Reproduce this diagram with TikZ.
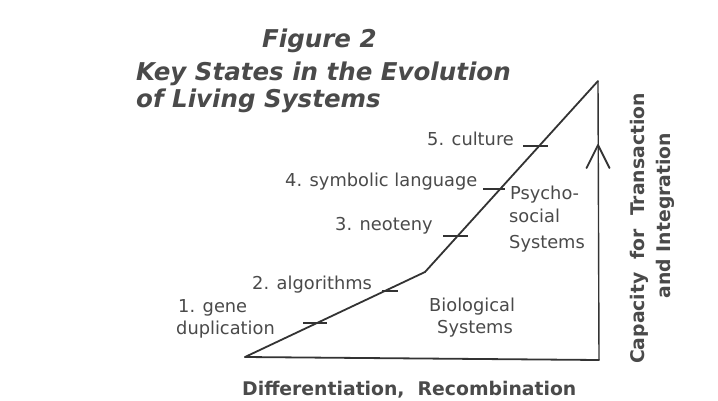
\documentclass[tikz,border=0pt]{standalone}
\usepackage{fontspec}
\setmainfont{DejaVu Sans}[ItalicFont={DejaVu Sans Oblique},BoldFont={DejaVu Sans Bold},BoldItalicFont={DejaVu Sans Bold Oblique}]
\definecolor{ink}{HTML}{333333}
\definecolor{txt}{HTML}{4A4A4A}
\begin{document}
\begin{tikzpicture}[x=1pt,y=-1pt,
  edge/.style={draw=ink,line width=1.8pt,line join=miter,line cap=round},
  thinedge/.style={draw=ink,line width=1.4pt},
  tickmark/.style={draw=ink,line width=1.5pt},
  lbl/.style={inner sep=0,anchor=base west,text=txt,font=\fontsize{17.8}{20}\selectfont},
  ttl/.style={inner sep=0,anchor=base west,text=txt,font=\fontsize{24.5}{28}\selectfont\bfseries\itshape},
  axislbl/.style={inner sep=0,text=txt,font=\fontsize{18.8}{22}\selectfont\bfseries}]
\useasboundingbox (0,0) rectangle (718,400);
\fill[white] (0,0) rectangle (718,400);

% title
\node[ttl] (fig) at (262,47) {Figure 2};
\node[ttl] (t1) at (136,80) {Key States in the Evolution};
\node[ttl] (t2) at (136,107) {of Living Systems};

% outline
\coordinate (o) at (245,357);
\coordinate (bend) at (425,272);
\coordinate (apex) at (598,81);
\coordinate (corner) at (599,360);
\draw[edge] (o) -- (bend) -- (apex);
\draw[thinedge] (apex) -- (corner);
\draw[edge] (corner) -- (o);

% arrowhead on the vertical axis
\coordinate (ah) at (598,145);
\draw[edge] (ah) -- ++(-11.5,23) (ah) -- ++(11.5,23);

% tick marks
\coordinate (k1) at (315,323);
\coordinate (k2) at (390,291);
\coordinate (k3) at (455.5,236);
\coordinate (k4) at (494,189);
\coordinate (k5) at (535.5,146);
\draw[tickmark] (k1) ++(-12,0) -- ++(24,0);
\draw[tickmark] (k2) ++(-8,0) -- ++(16,0);
\draw[tickmark] (k3) ++(-12.5,0) -- ++(25,0);
\draw[tickmark] (k4) ++(-11,0) -- ++(22,0);
\draw[tickmark] (k5) ++(-12.5,0) -- ++(25,0);

% stage labels
\node[lbl] (s5) at (427,145) {5. culture};
\node[lbl] (s4) at (285,186) {4. symbolic language};
\node[lbl] (s3) at (335,230.5) {3. neoteny};
\node[lbl] (s2) at (252,289) {2. algorithms};
\node[lbl] (s1a) at (178,312.5) {1. gene};
\node[lbl] (s1b) at (176,334) {duplication};

% region labels
\node[lbl] (bio1) at (429,311.5) {Biological};
\node[lbl] (bio2) at (437,333) {Systems};
\node[lbl] (ps1) at (510,199) {Psycho-};
\node[lbl] (ps2) at (509,222.5) {social};
\node[lbl] (ps3) at (509,248) {Systems};

% axis labels
\node[axislbl,anchor=base west] (xl) at (242,395) {Dif{}ferentiation,\ \ Recombination};
\node[axislbl,anchor=base,rotate=90] (yl1) at (644,228.5) {Capacity\ \ for\ \ Transaction};
\node[axislbl,anchor=base,rotate=90] (yl2) at (670,215.5) {and Integration};
\end{tikzpicture}
\end{document}
